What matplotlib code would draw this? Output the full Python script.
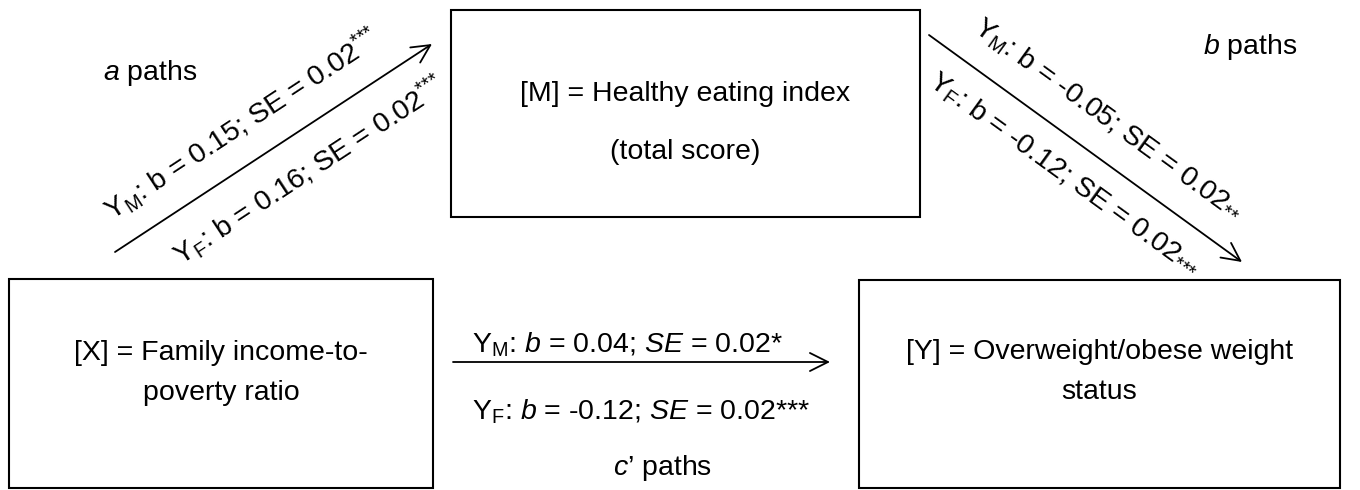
import math
import matplotlib
matplotlib.use("Agg")
import matplotlib.pyplot as plt
from matplotlib.patches import Rectangle, FancyArrowPatch

plt.rcParams['font.family'] = ['Liberation Sans', 'DejaVu Sans']
plt.rcParams['mathtext.fontset'] = 'custom'
plt.rcParams['mathtext.rm'] = 'Liberation Sans'
plt.rcParams['mathtext.it'] = 'Liberation Sans:italic'

# boxes: (left, top, right, bottom) in pixel units, and their text lines
box_names = ['M', 'X', 'Y']
box_extent = [(451, 10, 920, 217), (9, 279, 433, 488), (859, 280, 1340, 488)]
box_lines = [
    ['[M] = Healthy eating index', '(total score)'],
    ['[X] = Family income-to-', 'poverty ratio'],
    ['[Y] = Overweight/obese weight', 'status'],
]
box_line_y = [(94, 152), (353, 393), (352, 392)]

# path arrows: start -> end
path_names = ['a', 'b', "c'"]
path_start = [(115, 252), (929, 35), (453, 362)]
path_end = [(432, 44), (1242, 262), (830, 362)]

# path labels
STARS3 = r'$^{{*}{*}{*}}$'
a_labels = [r'Y$_{\rm M}$: b = 0.15; SE = 0.02' + STARS3,
            r'Y$_{\rm F}$: b = 0.16; SE = 0.02' + STARS3]
a_label_xy = [(242, 124), (309, 170)]
b_labels = [r'Y$_{\rm M}$: b = -0.05; SE = 0.02$_{{*}{*}}$',
            r'Y$_{\rm F}$: b = -0.12; SE = 0.02$_{{*}{*}{*}}$']
b_label_xy = [(1108, 120), (1064, 175)]
c_labels = [r'Y$_{\rm M}$: $b$ = 0.04; $SE$ = 0.02*',
            r'Y$_{\rm F}$: $b$ = -0.12; $SE$ = 0.02***']
c_label_xy = [(472, 352), (472, 419)]

path_titles = [r'$a$ paths', r'$b$ paths', '$c$\u2019 paths']
path_title_xy = [(150, 73), (1250, 47), (663, 468)]

fig = plt.figure(figsize=(13.6, 4.9), dpi=100)
ax = fig.add_axes([0, 0, 1, 1])
ax.set_xlim(0, 1360)
ax.set_ylim(490, 0)
ax.axis('off')

fs = 20.5

for (l, t, r, b), lines, ys in zip(box_extent, box_lines, box_line_y):
    ax.add_patch(Rectangle((l, t), r - l, b - t, fill=False, lw=1.5, ec='black'))
    cx = (l + r) / 2
    for txt, y in zip(lines, ys):
        ax.text(cx, y, txt, ha='center', va='center', fontsize=fs)

for s, e in zip(path_start, path_end):
    ax.add_patch(FancyArrowPatch(s, e, arrowstyle='->,head_length=13,head_width=6.5',
                                 mutation_scale=1, lw=1.3, color='black',
                                 shrinkA=0, shrinkB=0))

for labels, xys, s, e in [(a_labels, a_label_xy, path_start[0], path_end[0]),
                          (b_labels, b_label_xy, path_start[1], path_end[1])]:
    p1 = ax.transData.transform(s)
    p2 = ax.transData.transform(e)
    ang = math.degrees(math.atan2(p2[1] - p1[1], p2[0] - p1[0]))
    for txt, xy in zip(labels, xys):
        ax.text(xy[0], xy[1], txt, ha='center', va='center', fontsize=fs,
                rotation=ang, rotation_mode='anchor')

for txt, xy in zip(c_labels, c_label_xy):
    ax.text(xy[0], xy[1], txt, ha='left', va='baseline', fontsize=fs)

for txt, xy in zip(path_titles, path_title_xy):
    ax.text(xy[0], xy[1], txt, ha='center', va='center', fontsize=fs)

fig.savefig('out.png', dpi=100)
